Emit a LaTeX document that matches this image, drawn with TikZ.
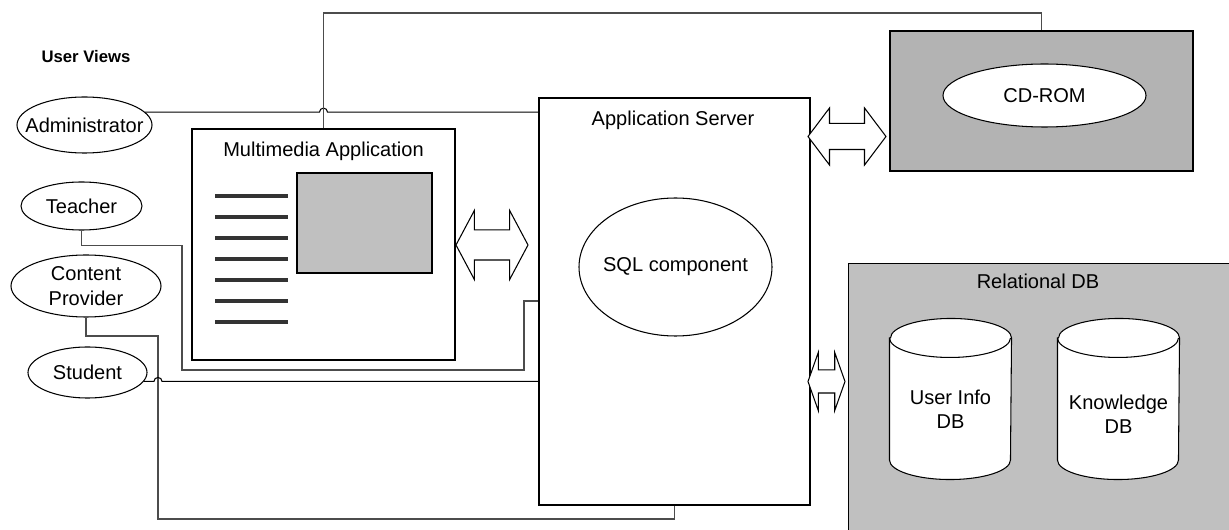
\documentclass[tikz,border=0pt]{standalone}
\usepackage{fontspec}
\setmainfont{Liberation Sans}
\usetikzlibrary{shapes.geometric,shapes.arrows,calc}
\definecolor{cdgray}{HTML}{B3B3B3}
\definecolor{dbgray}{HTML}{C0C0C0}

% drum outline around a named (undrawn) node
\newcommand\dbdrum[1]{%
  \draw[fill=white] ($(#1.north west)+(0,-0.39)$) -- ($(#1.south west)+(0,0.39)$)
    arc[start angle=180, end angle=360, x radius=1.21cm, y radius=0.39cm]
    -- ($(#1.north east)+(0,-0.39)$)
    arc[start angle=0, end angle=180, x radius=1.21cm, y radius=0.39cm] -- cycle;
  \draw ($(#1.north west)+(0,-0.39)$) arc[start angle=180, end angle=360, x radius=1.21cm, y radius=0.39cm];
}

\begin{document}
\begin{tikzpicture}[
    line width=0.6pt,
    font=\fontsize{11.4}{13.8}\selectfont,
    view/.style={ellipse, draw, fill=white, inner sep=0pt},
    box/.style={rectangle, draw, inner sep=0pt},
    caption/.style={inner sep=0pt, align=center},
    link/.style={double arrow, draw, fill=white, inner xsep=0pt, double arrow head indent=0pt},
    wire/.style={draw=black},
    greywire/.style={draw=black!70},
    textline/.style={line width=1.8pt, draw=black!80},
    db/.style={rectangle, inner sep=0pt, minimum width=2.42cm, minimum height=3.2cm}
  ]
  \useasboundingbox (0,0) rectangle (24.58,-10.6);
  \clip (0,0) rectangle (24.58,-10.6);

  % User views
  \node[caption, font=\bfseries\fontsize{9.5}{11}\selectfont] (views) at (1.72,-1.14) {User Views};
  \node[view, minimum width=2.7cm, minimum height=1.12cm, label=center:Administrator] (admin) at (1.69,-2.5) {};
  \node[view, minimum width=2.42cm, minimum height=0.96cm, label=center:Teacher] (teacher) at (1.63,-4.12) {};
  \node[view, minimum width=3cm, minimum height=1.24cm, label={[align=center]center:Content\\Provider}] (provider) at (1.72,-5.72) {};
  \node[view, minimum width=2.38cm, minimum height=1.02cm, label=center:Student] (student) at (1.75,-7.45) {};

  % Multimedia application
  \node[box, minimum width=5.26cm, minimum height=4.62cm] (mm) at (6.47,-4.89) {};
  \node[caption] (mmtitle) at (6.47,-3.03) {Multimedia Application};
  \node[box, fill=dbgray, minimum width=2.7cm, minimum height=2cm] (screen) at (7.29,-4.46) {};
  \foreach \i in {0,...,6}
    \draw[textline] (4.3,-3.92-0.42*\i) -- (5.76,-3.92-0.42*\i);

  % Application server
  \node[box, minimum width=5.42cm, minimum height=8.14cm] (appsrv) at (13.49,-6.03) {};
  \node[caption] (apptitle) at (13.46,-2.4) {Application Server};
  \node[view, minimum width=3.86cm, minimum height=2.76cm, label=center:SQL component] (sql) at (13.51,-5.34) {};

  % CD-ROM
  \node[box, fill=cdgray, minimum width=6.06cm, minimum height=2.8cm] (cdbox) at (20.83,-2.02) {};
  \node[view, minimum width=4.06cm, minimum height=1.26cm, label=center:CD-ROM] (cdrom) at (20.89,-1.91) {};

  % Relational DB
  \node[box, fill=dbgray, anchor=north west, minimum width=8cm, minimum height=6cm] (rdb) at (16.96,-5.26) {};
  \node[caption] (rdbtitle) at (20.76,-5.63) {Relational DB};
  \node[db] (userdb) at (19.01,-7.98) {};
  \dbdrum{userdb}
  \node[caption] (usertext) at (19.01,-8.18) {User Info\\DB};
  \node[db] (knowdb) at (22.37,-7.98) {};
  \dbdrum{knowdb}
  \node[caption] (knowtext) at (22.37,-8.28) {Knowledge\\DB};

  % Block arrows
  \node[link, minimum height=1.44cm, inner ysep=0.29cm, double arrow head extend=0.39cm, double arrow tip angle=124] (mmlink) at (9.84,-4.9) {};
  \node[link, minimum height=1.56cm, inner ysep=0.25cm, double arrow head extend=0.31cm, double arrow tip angle=106] (cdlink) at (16.94,-2.73) {};
  \node[link, minimum height=0.74cm, inner ysep=0.22cm, double arrow head extend=0.35cm, double arrow tip angle=141] (dblink) at (16.53,-7.63) {};

  % Wires
  \coordinate (cpdrop) at (3.16,-6.72);
  \draw[wire] (admin.12) -- ($(admin.12 -| mm.north)+(-0.08,0)$) arc[start angle=180, end angle=0, radius=0.08] -- (admin.12 -| appsrv.west);
  \draw[greywire] (mm.north) -- (mm.north |- 0,-0.26) -| (cdbox.north);
  \draw[greywire] (teacher.south) -- ++(0,-0.3) -| (3.64,-7.4) -| (10.48,-6.02) -- (appsrv.west |- 0,-6.02);
  \draw[greywire] (provider.south) |- (cpdrop) -- (cpdrop |- 0,-10.38) -| (appsrv.south);
  \draw[wire] (student.-9) -- ($(student.-9 -| cpdrop)+(-0.08,0)$) arc[start angle=180, end angle=0, radius=0.08] -- (student.-9 -| appsrv.west);

\end{tikzpicture}
\end{document}
